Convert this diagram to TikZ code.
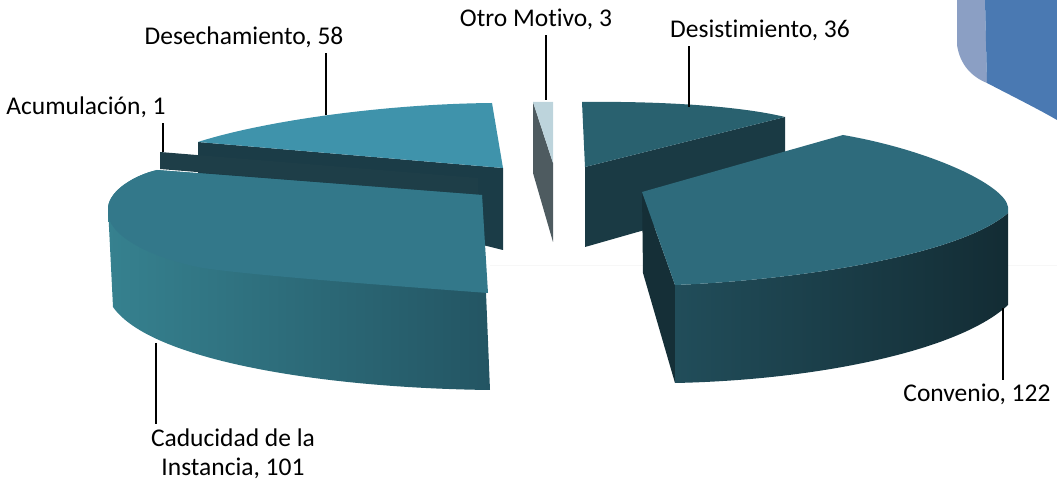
\documentclass[tikz,border=0pt]{standalone}
\usepackage{fontspec}
\setmainfont{Carlito}[Ligatures=NoCommon]
\definecolor{desechtop}{HTML}{3F93AB}
\definecolor{desechside}{HTML}{1B3C47}
\definecolor{acumside}{HTML}{1E3E48}
\definecolor{caductop}{HTML}{33788A}
\definecolor{caducleft}{HTML}{36818F}
\definecolor{caducright}{HTML}{235563}
\definecolor{otrotop}{HTML}{BDD4DC}
\definecolor{otroside}{HTML}{4E5B60}
\definecolor{desisttop}{HTML}{29616F}
\definecolor{desistside}{HTML}{1A3A44}
\definecolor{convtop}{HTML}{2E6B7C}
\definecolor{convedge}{HTML}{152F37}
\definecolor{convleft}{HTML}{214D5A}
\definecolor{convright}{HTML}{132C34}
\definecolor{bluelight}{HTML}{8B9FC4}
\definecolor{bluedark}{HTML}{4A79B2}
\tikzset{
  lbl/.style={font=\fontsize{12.75pt}{14.5pt}\selectfont, inner sep=2pt, align=center},
  leader/.style={line width=0.75pt},
}
\begin{document}
\begin{tikzpicture}[x=0.5pt, y=-0.5pt]
        \useasboundingbox (0,0) rectangle (1057,486);

        \draw [gray!6] (490,265) -- (1057,265);

        \fill [bluelight] (957,0) -- (957,45) .. controls (960,65) and (972,77) .. (987,83) -- (985,0) -- cycle;
        \fill [bluedark] (985,0) -- (987,83) .. controls (1010,95) and (1040,110) .. (1057,120) -- (1057,0) -- cycle;

        \fill [desechside] (198,142) -- (503,168) -- (503,250) -- (198,175) -- cycle;
        \fill [desechtop] (198,142) .. controls (260,122) and (380,104) .. (492,103) -- (503,168) -- cycle;

        \fill [acumside] (160,152) -- (478,178) -- (478,195) -- (160,169) -- cycle;

        \shade [left color=caducleft, right color=caducright] (157,170) -- (482,195) -- (490,390)
            .. controls (320,388) and (150,360) .. (113,307) -- (108,207)
            .. controls (110,190) and (135,175) .. (157,170) -- cycle;
        \fill [caductop] (157,170) -- (482,195) -- (488,293)
            .. controls (380,285) and (250,275) .. (203,268)
            .. controls (160,260) and (112,240) .. (108,215) -- (108,207)
            .. controls (110,190) and (135,175) .. (157,170) -- cycle;

        \fill [otroside] (533,102) -- (553,163) -- (553,242) -- (533,173) -- cycle;
        \fill [otrotop] (533,102) -- (553,102) -- (553,163) -- cycle;

        \fill [desistside] (585,167) -- (785,117) -- (785,190) -- (585,247) -- cycle;
        \fill [desisttop] (582,102) .. controls (660,101) and (740,106) .. (785,117) -- (585,167) -- cycle;

        \fill [convedge] (642,192) -- (675,285) -- (675,383) -- (643,273) -- cycle;
        \shade [left color=convleft, right color=convright] (675,285)
            .. controls (800,280) and (960,255) .. (1008,213) -- (1008,305)
            .. controls (960,350) and (820,380) .. (675,383) -- cycle;
        \fill [convtop] (642,192) -- (843,135) .. controls (930,150) and (1005,185) .. (1008,207)
            -- (1008,213) .. controls (960,255) and (800,280) .. (675,285) -- cycle;

        \node (otro) at (536,27) [anchor = base, lbl] {Otro Motivo, 3};
        \node (desist) at (760,38) [anchor = base, lbl] {Desistimiento, 36};
        \node (desech) at (244,45) [anchor = base, lbl] {Desechamiento, 58};
        \node (acum) at (86,115) [anchor = base, lbl] {Acumulación, 1};
        \node (conv) at (977,402) [anchor = base, lbl] {Convenio, 122};
        \node (caduc) at (233,424) [anchor = north, lbl] {Caducidad de la\\Instancia, 101};

        \coordinate (otro-pt) at (546,100);
        \coordinate (desist-pt) at (689,107);
        \coordinate (desech-pt) at (326,115);
        \coordinate (acum-pt) at (163,152);
        \coordinate (conv-pt) at (1003,308);
        \coordinate (caduc-pt) at (156,343);

        \draw [leader] (otro-pt) -- (otro-pt |- otro.south);
        \draw [leader] (desist-pt) -- (desist-pt |- desist.south);
        \draw [leader] (desech-pt) -- (desech-pt |- desech.south);
        \draw [leader] (acum-pt) -- (acum-pt |- acum.south);
        \draw [leader] (conv-pt) -- (conv-pt |- conv.north);
        \draw [leader] (caduc-pt) -- (caduc-pt |- caduc.north);
    \end{tikzpicture}
\end{document}
